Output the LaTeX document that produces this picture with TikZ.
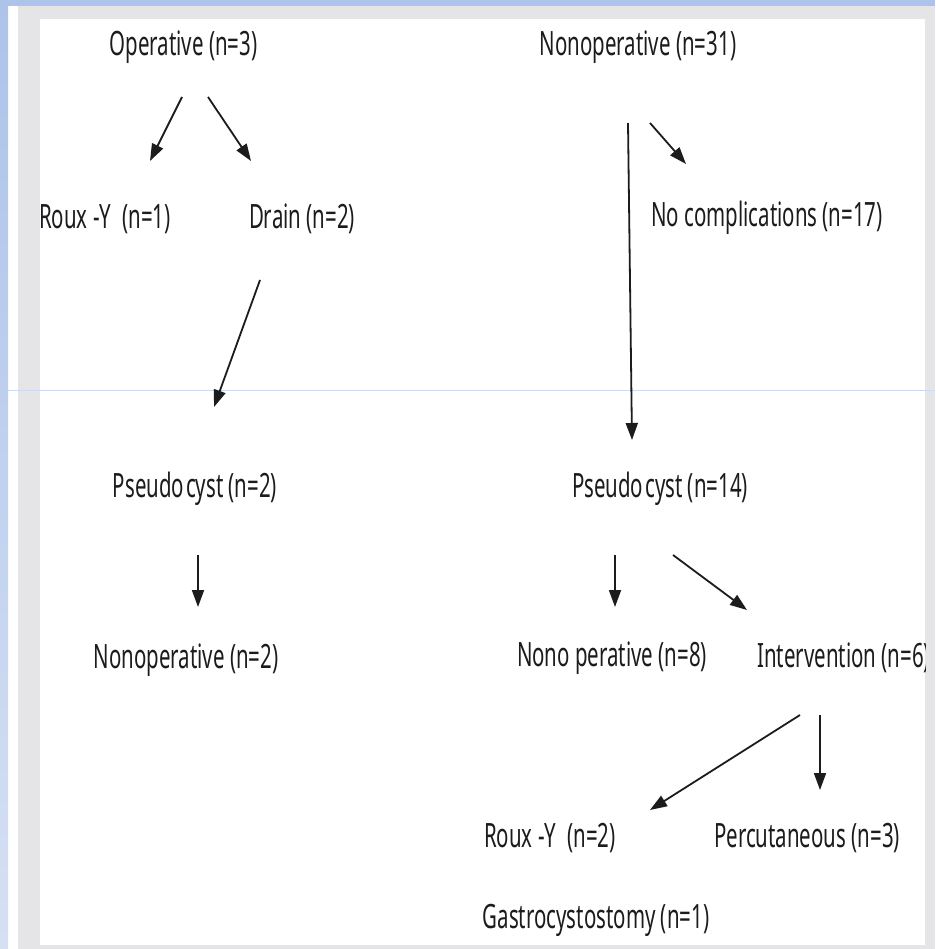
\documentclass[tikz,border=0pt]{standalone}
\usepackage{fontspec}
\setmainfont{Noto Sans}[FakeStretch=0.61]
\usetikzlibrary{arrows.meta}
\definecolor{bluetop}{HTML}{ADC3E9}
\definecolor{bluelow}{HTML}{D6E0F3}
\definecolor{framegray}{HTML}{E5E5E7}
\definecolor{rulecol}{HTML}{CCDAF3}
\definecolor{ink}{HTML}{1C1C1C}
\begin{document}
\begin{tikzpicture}[x=1pt,y=-1pt,
  lbl/.style={font=\fontsize{33.5}{33.5}\selectfont, text=ink, inner sep=0pt},
  arr/.style={-{Triangle[length=17pt,width=12pt]}, line width=1.8pt, draw=ink}]
\useasboundingbox (0,0) rectangle (935,949);
% page background and frame
\fill[white] (0,0) rectangle (935,949);
\shade[top color=bluetop, bottom color=bluelow] (0,0) rectangle (8,949);
\fill[bluetop] (0,0) rectangle (935,6);
\fill[framegray] (18,6) rectangle (935,949);
\fill[white] (40,19) rectangle (925,945);
\draw[rulecol, line width=1pt] (8,390) -- (935,390);

% labels
\node[lbl] (op)     at (183.5,47) {Operative (n=3)};
\node[lbl] (non31)  at (638,47)   {Nonoperative (n=31)};
\node[lbl] (roux1)  at (105,219)  {Roux -Y\hspace{6pt} (n=1)};
\node[lbl] (drain)  at (302,219)  {Drain (n=2)};
\node[lbl] (nocomp) at (767,218)  {No complications (n=17)};
\node[lbl] (ps2)    at (195,489)  {Pseudo\hspace{2pt}cyst (n=2)};
\node[lbl] (ps14)   at (660,489)  {Pseudo\hspace{2pt}cyst (n=14)};
\node[lbl] (non2)   at (186,660)  {Nonoperative (n=2)};
\node[lbl] (non8)   at (612,658)  {Nono perative (n=8)};
\begin{scope}
  \clip (40,19) rectangle (925,945);
  \node[lbl, anchor=west] (interv) at (757,658) {Intervention (n=6)};
\end{scope}
\node[lbl] (roux2)  at (550,838)  {Roux -Y\hspace{6pt} (n=2)};
\node[lbl] (perc)   at (807,838)  {Percutaneous (n=3)};
\node[lbl] (gastro) at (596,920)  {Gastrocystostomy (n=1)};

% arrow end points
\coordinate (a1s) at (182,97);  \coordinate (a1e) at (150,161);
\coordinate (a2s) at (208,97);  \coordinate (a2e) at (251,161);
\coordinate (a3s) at (260,280); \coordinate (a3e) at (214,407);
\coordinate (a4s) at (198,555); \coordinate (a4e) at (198,607);
\coordinate (a5s) at (628,123); \coordinate (a5e) at (632,440);
\coordinate (a6s) at (650,123); \coordinate (a6e) at (686,164);
\coordinate (a7s) at (615,555); \coordinate (a7e) at (615,607);
\coordinate (a8s) at (673,555); \coordinate (a8e) at (747,610);
\coordinate (a9s) at (800,715); \coordinate (a9e) at (650,810);
\coordinate (a10s) at (820,715); \coordinate (a10e) at (820,790);

\foreach \i in {1,...,10} \draw[arr] (a\i s) -- (a\i e);
\end{tikzpicture}
\end{document}
